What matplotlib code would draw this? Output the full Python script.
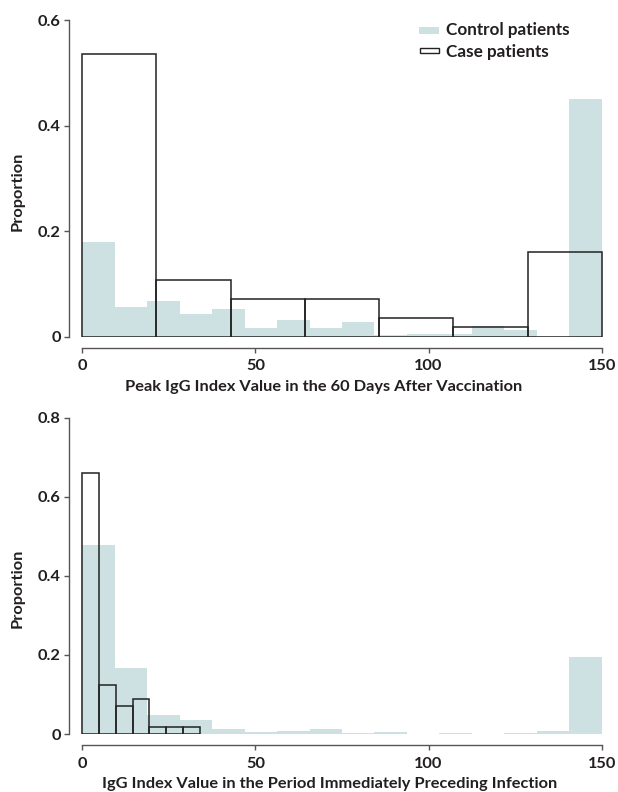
import numpy as np
import matplotlib
matplotlib.use("Agg")
import matplotlib.pyplot as plt
from matplotlib.patches import Rectangle

# ---------------- data ----------------
xmax = 150
control_edges = np.linspace(0, 150, 17)
top_case_edges = np.linspace(0, 150, 8)
bottom_case_edges = np.linspace(0, 34, 8)

top_control = [0.179, 0.056, 0.067, 0.043, 0.0525, 0.017, 0.031, 0.016,
               0.028, 0.003, 0.005, 0.005, 0.020, 0.013, 0.0, 0.451]
top_case = [30 / 56, 6 / 56, 4 / 56, 4 / 56, 2 / 56, 1 / 56, 9 / 56]

bottom_control = [0.478, 0.166, 0.048, 0.035, 0.012, 0.005, 0.0085, 0.0126,
                  0.0034, 0.006, 0.0, 0.0034, 0.0, 0.0034, 0.0067, 0.196]
bottom_case = [37 / 56, 7 / 56, 4 / 56, 5 / 56, 1 / 56, 1 / 56, 1 / 56]

x_ticks = [0, 50, 100, 150]
x_ticklabels = ["0", "50", "100", "150"]
top_yticks = [0, 0.2, 0.4, 0.6]
top_yticklabels = ["0", "0.2", "0.4", "0.6"]
bottom_yticks = [0, 0.2, 0.4, 0.6, 0.8]
bottom_yticklabels = ["0", "0.2", "0.4", "0.6", "0.8"]

top_xlabel = "Peak IgG Index Value in the 60 Days After Vaccination"
bottom_xlabel = "IgG Index Value in the Period Immediately Preceding Infection"
ylabel = "Proportion"
legend_labels = ["Control patients", "Case patients"]

# ---------------- style ----------------
W, H = 618, 792
CTRL = "#cde0e2"
EDGE = "#222222"
SPINE = "#555555"
TXT = "#231f20"
FONT = "Lato"
FS = 11.8
LFS = 12.3
WEIGHT = "bold"

plt.rcParams["font.family"] = [FONT, "DejaVu Sans"]

fig = plt.figure(figsize=(W / 100, H / 100), dpi=100)


def px(x0, y0, x1, y1):
    return [x0 / W, 1 - y1 / H, (x1 - x0) / W, (y1 - y0) / H]


def draw(ax, control, case, case_edges, yticks, yticklabels, ymax, xlabel, xlab_x):
    ax.bar(control_edges[:-1], control, width=np.diff(control_edges), align="edge",
           color=CTRL, edgecolor="none", linewidth=0, zorder=1)
    ax.bar(case_edges[:-1], case, width=np.diff(case_edges), align="edge",
           fill=False, edgecolor=EDGE, linewidth=1.1, zorder=2)
    ax.set_xlim(-0.3, xmax + 0.3)
    ax.set_ylim(0, ymax)
    for s in ["top", "right"]:
        ax.spines[s].set_visible(False)
    ax.spines["left"].set_position(("outward", 9))
    ax.spines["bottom"].set_position(("outward", 7.8))
    ax.spines["left"].set_bounds(0, ymax)
    ax.spines["bottom"].set_bounds(0, xmax)
    for s in ["left", "bottom"]:
        ax.spines[s].set_color(SPINE)
        ax.spines[s].set_linewidth(1.0)
    ax.set_xticks(x_ticks)
    ax.set_xticklabels(x_ticklabels)
    ax.set_yticks(yticks)
    ax.set_yticklabels(yticklabels)
    ax.tick_params(axis="both", direction="out", length=3.5, width=1.0,
                   color=SPINE, labelcolor=TXT, labelsize=FS)
    ax.tick_params(axis="x", pad=5)
    ax.tick_params(axis="y", pad=2)
    for lab in ax.get_xticklabels() + ax.get_yticklabels():
        lab.set_fontweight(WEIGHT)
    ax.set_xlabel(xlabel, fontsize=FS, fontweight=WEIGHT, color=TXT)
    ax.xaxis.set_label_coords(xlab_x, -0.158)
    ax.xaxis.label.set_va("center")
    ax.set_ylabel(ylabel, fontsize=FS, fontweight=WEIGHT, color=TXT)
    ax.yaxis.set_label_coords(-0.121, 0.46)
    ax.yaxis.label.set_va("center")


ax1 = fig.add_axes(px(81, 20, 603, 336.7))
draw(ax1, top_control, top_case, top_case_edges, top_yticks, top_yticklabels, 0.6,
     top_xlabel, 0.464)

ax2 = fig.add_axes(px(81, 417.7, 603, 734))
draw(ax2, bottom_control, bottom_case, bottom_case_edges, bottom_yticks,
     bottom_yticklabels, 0.8, bottom_xlabel, 0.477)

# legend (manual)
fig.patches.append(Rectangle((419 / W, 1 - 34 / H), 20 / W, 7.3 / H,
                             transform=fig.transFigure, facecolor=CTRL,
                             edgecolor="none"))
fig.patches.append(Rectangle((419.5 / W, 1 - 52.7 / H), 19.5 / W, 5 / H,
                             transform=fig.transFigure, facecolor="none",
                             edgecolor=EDGE, linewidth=1.0))
fig.text(446 / W, 1 - 29.5 / H, legend_labels[0], fontsize=LFS, fontweight=WEIGHT,
         color=TXT, va="center", ha="left")
fig.text(446 / W, 1 - 52 / H, legend_labels[1], fontsize=LFS, fontweight=WEIGHT,
         color=TXT, va="center", ha="left")

fig.savefig("out.png", dpi=100)
